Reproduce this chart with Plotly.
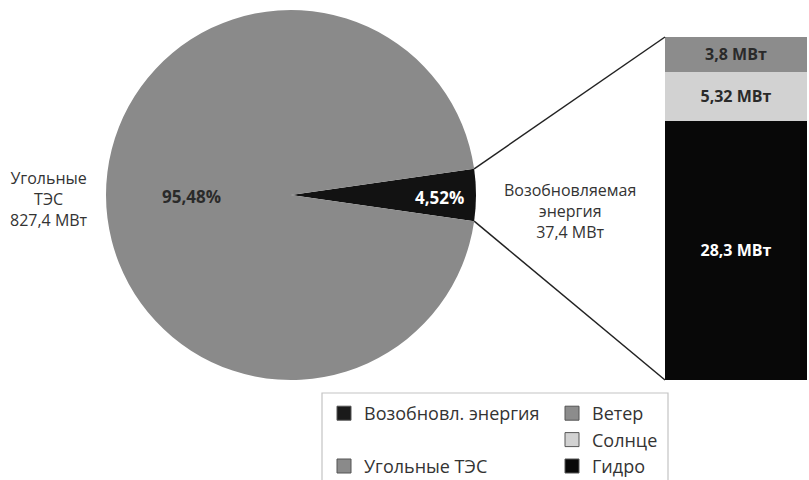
import math
import plotly.graph_objects as go

# ---------------- data ----------------
pie_labels = ["Возобновл. энергия", "Угольные ТЭС"]
pie_pct = [4.52, 95.48]
pie_pct_text = ["4,52%", "95,48%"]
pie_capacity_text = ["37,4 МВт", "827,4 МВт"]
pie_colors = ["#121212", "#8a8a8a"]

bar_labels = ["Гидро", "Солнце", "Ветер"]
bar_values = [28.3, 5.32, 3.8]
bar_text = ["28,3 МВт", "5,32 МВт", "3,8 МВт"]
bar_colors = ["#080808", "#d2d2d2", "#8c8c8c"]
bar_text_colors = ["#ffffff", "#2a2a2a", "#2a2a2a"]
bar_category = ["Возобновляемая энергия"]

legend_col1 = ["Возобновл. энергия", " ", "Угольные ТЭС"]
legend_col1_colors = ["#1a1a1a", "rgba(0,0,0,0)", "#8a8a8a"]
legend_col2 = ["Ветер", "Солнце", "Гидро"]
legend_col2_colors = ["#8c8c8c", "#d2d2d2", "#080808"]

# ---------------- geometry (pixels) ----------------
W, H = 809, 480
FONT = "Open Sans"
pie_box = (106, 10, 476, 380)     # left, top, right, bottom
bar_box = (665, 37, 807, 380)

def px(x):
    return x / W

def py(y):
    return 1 - y / H

fig = go.Figure()

small_share = pie_pct[0] / sum(pie_pct)
rotation = 90 - small_share * 360 / 2

fig.add_trace(go.Pie(
    labels=pie_labels, values=pie_pct, sort=False, direction="clockwise",
    rotation=rotation, marker=dict(colors=pie_colors, line=dict(width=0)),
    textinfo="none", hoverinfo="skip", showlegend=False,
    domain=dict(x=[px(pie_box[0]), px(pie_box[2])], y=[py(pie_box[3]), py(pie_box[1])]),
))

for lab, val, txt, col, tcol in zip(bar_labels, bar_values, bar_text, bar_colors, bar_text_colors):
    fig.add_trace(go.Bar(
        x=bar_category, y=[val], name=lab, text=[txt], textposition="inside",
        insidetextanchor="middle", textangle=0,
        textfont=dict(family=FONT, size=16, color=tcol, weight="bold"),
        marker=dict(color=col, line=dict(width=0)), width=1,
        xaxis="x2", yaxis="y2", showlegend=False, hoverinfo="skip",
    ))

# legend entries
for i, (lab, col) in enumerate(zip(legend_col1, legend_col1_colors)):
    fig.add_trace(go.Scatter(
        x=[None], y=[None], mode="markers", name=lab, legend="legend",
        legendrank=i + 1,
        marker=dict(symbol="square", size=14, color=col,
                    line=dict(color="#555555" if i != 1 else "rgba(0,0,0,0)", width=1)),
        xaxis="x2", yaxis="y2",
    ))
for i, (lab, col) in enumerate(zip(legend_col2, legend_col2_colors)):
    fig.add_trace(go.Scatter(
        x=[None], y=[None], mode="markers", name=lab, legend="legend2",
        legendrank=i + 1,
        marker=dict(symbol="square", size=14, color=col, line=dict(color="#555555", width=1)),
        xaxis="x2", yaxis="y2",
    ))

# connector lines from the wedge corners to the bar corners
cx = (pie_box[0] + pie_box[2]) / 2
cy = (pie_box[1] + pie_box[3]) / 2
r = (pie_box[2] - pie_box[0]) / 2
half = math.radians(small_share * 360 / 2)
top_corner = (cx + r * math.cos(half), cy - r * math.sin(half))
bot_corner = (cx + r * math.cos(half), cy + r * math.sin(half))
shapes = [
    dict(type="line", xref="paper", yref="paper",
         x0=px(top_corner[0]), y0=py(top_corner[1]), x1=px(bar_box[0]), y1=py(bar_box[1]),
         line=dict(color="#222222", width=1.5)),
    dict(type="line", xref="paper", yref="paper",
         x0=px(bot_corner[0]), y0=py(bot_corner[1]), x1=px(bar_box[0]), y1=py(bar_box[3]),
         line=dict(color="#222222", width=1.5)),
    dict(type="rect", xref="paper", yref="paper",
         x0=px(322), x1=px(668), y0=py(486), y1=py(393),
         line=dict(color="#c4c4c4", width=1.2), fillcolor="rgba(0,0,0,0)"),
]

label_font = dict(family=FONT, size=16, color="#333333")
pct_font = dict(family=FONT, size=17, weight="bold")
annotations = [
    dict(x=px(191), y=py(196), xref="paper", yref="paper", text=pie_pct_text[1],
         xanchor="center", yanchor="middle",
         showarrow=False, font=dict(color="#2a2a2a", **pct_font)),
    dict(x=px(439), y=py(197), xref="paper", yref="paper", text=pie_pct_text[0],
         xanchor="center", yanchor="middle",
         showarrow=False, font=dict(color="#ffffff", **pct_font)),
    dict(x=px(49), y=py(199), xref="paper", yref="paper",
         text="Угольные<br>ТЭС<br>" + pie_capacity_text[1],
         xanchor="center", yanchor="middle",
         showarrow=False, align="center", font=label_font),
    dict(x=px(570), y=py(211), xref="paper", yref="paper",
         text="Возобновляемая<br>энергия<br>" + pie_capacity_text[0],
         xanchor="center", yanchor="middle",
         showarrow=False, align="center", font=label_font),
]

legend_common = dict(
    orientation="v", yanchor="top", xanchor="left", traceorder="normal",
    font=dict(family=FONT, size=18, color="#333333"),
    bgcolor="rgba(0,0,0,0)", borderwidth=0, tracegroupgap=0,
    itemclick=False, itemdoubleclick=False,
)

fig.update_layout(
    width=W, height=H,
    margin=dict(l=0, r=0, t=0, b=0, autoexpand=False),
    paper_bgcolor="white", plot_bgcolor="white",
    barmode="stack",
    xaxis2=dict(domain=[px(bar_box[0]), px(bar_box[2])], anchor="y2",
                range=[-0.5, 0.5], visible=False, fixedrange=True),
    yaxis2=dict(domain=[py(bar_box[3]), py(bar_box[1])], anchor="x2",
                range=[0, sum(bar_values)], visible=False, fixedrange=True),
    xaxis=dict(visible=False), yaxis=dict(visible=False),
    legend=dict(x=px(324), y=py(395), **legend_common),
    legend2=dict(x=px(552), y=py(395), **legend_common),
    shapes=shapes, annotations=annotations,
    showlegend=True,
)

fig.write_html(
    "out.html",
    config={"displayModeBar": False},
    post_script="document.body.style.margin='0';document.body.style.overflow='hidden';",
)
